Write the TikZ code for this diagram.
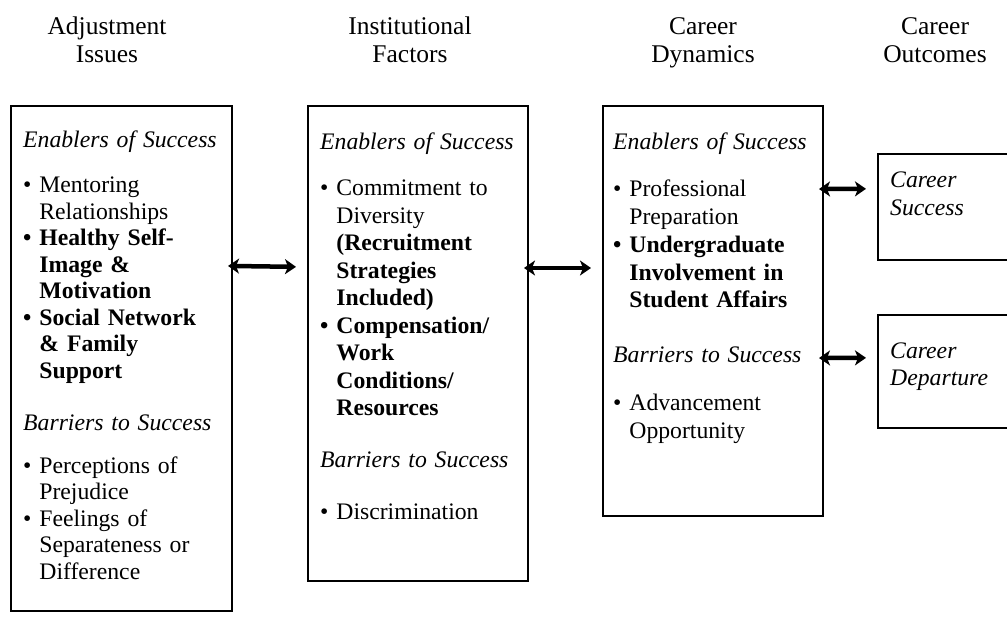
\documentclass[tikz,border=0pt]{standalone}
\usepackage{fontspec}
\setmainfont{Liberation Serif}
\usetikzlibrary{arrows.meta,positioning}

\newcommand{\ind}{\phantom{\textbullet\ }}

\begin{document}
\begin{tikzpicture}[x=1pt, y=-1pt,
    box/.style={draw, line width=2pt, anchor=north west, inner sep=0pt},
    colhead/.style={font=\fontsize{25.5}{28}\selectfont, text width=160pt, align=center, anchor=base, inner sep=0pt},
    body/.style={font=\fontsize{23.7}{#1}\selectfont, text width=205pt, align=left, anchor=base west, inner sep=0pt},
    twoway/.style={line width=4.5pt, {Stealth[length=11pt,width=15pt,inset=3pt]}-{Stealth[length=11pt,width=15pt,inset=3pt]}, shorten <=-5pt, shorten >=11pt}]
    \useasboundingbox (0,0) rectangle (1007,639);
    \clip (0,0) rectangle (1007,639);

    % column headings
    \node[colhead] (hadj) at (107,35) {Adjustment\\Issues};
    \node[colhead] (hinst) at (410,35) {Institutional\\Factors};
    \node[colhead] (hdyn) at (703,35) {Career\\Dynamics};
    \node[colhead] (hout) at (935,35) {Career\\Outcomes};

    % boxes
    \node[box, minimum width=221pt, minimum height=505pt] (adj) at (10,105) {};
    \node[box, minimum width=220pt, minimum height=475pt] (inst) at (307,105) {};
    \node[box, minimum width=220pt, minimum height=410pt] (dyn) at (602,105) {};
    \node[box, line width=1.6pt, minimum width=140pt, minimum height=106pt] (succ) at (877,153) {};
    \node[box, line width=1.6pt, minimum width=140pt, minimum height=113pt] (dep) at (877,314) {};

    % box contents
    \node[body=26.5pt] (adjtxt) at ([shift={(13,43)}]adj.north west) {%
        \textit{Enablers of Success}\\[18.5pt]
        \textbullet\ Mentoring\\
        \ind Relationships\\
        \textbf{\textbullet\ Healthy Self-}\\
        \textbf{\ind Image \&}\\
        \textbf{\ind Motivation}\\
        \textbf{\textbullet\ Social Network}\\
        \textbf{\ind \& Family}\\
        \textbf{\ind Support}\\[25.5pt]
        \textit{Barriers to Success}\\[16.5pt]
        \textbullet\ Perceptions of\\
        \ind Prejudice\\
        \textbullet\ Feelings of\\
        \ind Separateness or\\
        \ind Difference};
    \node[body=27.5pt] (insttxt) at ([shift={(13,45)}]inst.north west) {%
        \textit{Enablers of Success}\\[18.5pt]
        \textbullet\ Commitment to\\
        \ind Diversity\\
        \textbf{\ind (Recruitment}\\
        \textbf{\ind Strategies}\\
        \textbf{\ind Included)}\\
        \textbf{\textbullet\ Compensation/}\\
        \textbf{\ind Work}\\
        \textbf{\ind Conditions/}\\
        \textbf{\ind Resources}\\[24.5pt]
        \textit{Barriers to Success}\\[24.5pt]
        \textbullet\ Discrimination};
    \node[body=27.7pt] (dyntxt) at ([shift={(11,45)}]dyn.north west) {%
        \textit{Enablers of Success}\\[19.3pt]
        \textbullet\ Professional\\
        \ind Preparation\\
        \textbf{\textbullet\ Undergraduate}\\
        \textbf{\ind Involvement in}\\
        \textbf{\ind Student Affairs}\\[27.3pt]
        \textit{Barriers to Success}\\[20.3pt]
        \textbullet\ Advancement\\
        \ind Opportunity};
    \node[body=27.5pt] (succtxt) at ([shift={(13,35)}]succ.north west) {\textit{Career}\\\textit{Success}};
    \node[body=27.5pt] (deptxt) at ([shift={(13,44)}]dep.north west) {\textit{Career}\\\textit{Departure}};

    % connectors
    \draw[twoway] ([yshift=92.5pt]adj.east) -- ([yshift=76.5pt]inst.west);
    \draw[twoway] ([yshift=75.5pt]inst.east) -- ([yshift=43pt]dyn.west);
    \draw[twoway] ([yshift=122pt]dyn.east) -- ([yshift=18pt]succ.west);
    \draw[twoway] ([yshift=-47pt]dyn.east) -- ([yshift=13.5pt]dep.west);
\end{tikzpicture}
\end{document}
